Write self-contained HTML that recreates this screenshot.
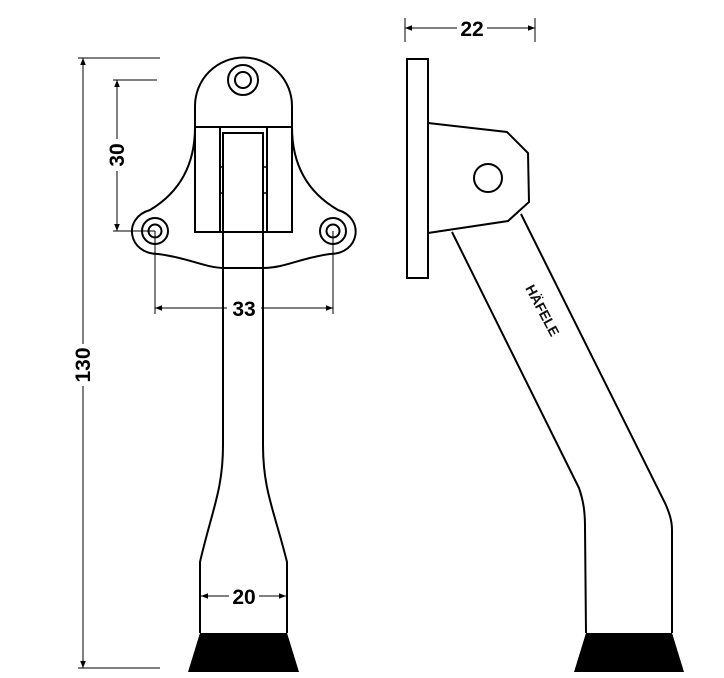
<!DOCTYPE html>
<html><head><style>body{margin:0;background:#fff}svg{display:block}</style></head><body>
<svg width="724" height="678" viewBox="0 0 724 678" xmlns="http://www.w3.org/2000/svg" font-family="Liberation Sans, sans-serif">
<defs><marker id="a" viewBox="0 0 10 10" refX="10" refY="5" markerWidth="16" markerHeight="7" orient="auto-start-reverse" markerUnits="userSpaceOnUse"><path d="M0,1 L10,5 L0,9z" fill="#000"/></marker></defs>
<g fill="none" stroke="#000" stroke-width="2">
<path d="M195,127 L195,106 A48.5,48.5 0 0 1 292,106 L292,127 Z" fill="#fff"/>
<circle cx="243" cy="80" r="15"/><circle cx="243" cy="80" r="8"/>
<path d="M195,127 C195,170 175,195 150,210 C122,218 128,254 158,254 C190,258 205,268 225,268 L263,268 C285,268 300,258 330,254 C360,254 365,218 338,210 C312,195 292,170 292,127"/>
<circle cx="155" cy="231" r="13"/><circle cx="155" cy="231" r="6.5"/>
<circle cx="333" cy="231" r="13"/><circle cx="333" cy="231" r="6.5"/>
<rect x="195" y="127" width="97" height="105" fill="#fff"/>
<line x1="220" y1="127" x2="220" y2="232"/><line x1="267" y1="127" x2="267" y2="232"/>
<path d="M223,268 L223,133 L263,133 L263,268"/>
<path d="M220,167 H223 M220,193 H223 M263,167 H267 M263,193 H267" stroke-width="1.5"/>
<path d="M223,268 L223,445 C223,490 212,510 200,562 L200,633"/>
<path d="M263,268 L263,445 C263,490 274,510 287,562 L287,633"/>
</g>
<path d="M200,633 L287,633 L299,672 L188,672 Z" fill="#000"/>
<g fill="none" stroke="#000" stroke-width="2">
<rect x="407" y="59" width="21" height="219"/>
<path d="M428,123 L507,132 L528,153 L529,202 L508,221 L428,233"/>
<circle cx="488" cy="178" r="14"/>
<path d="M452,232 L579,488 C583,500 585,510 585,527 L586,633"/>
<path d="M521,214 L665,503 C669,512 672,520 672,530 L672,633"/>
</g>
<path d="M586,633 L672,633 L684,672 L574,672 Z" fill="#000"/>
<text x="0" y="0" font-size="14" font-weight="bold" fill="#111" transform="translate(525,288) rotate(62)">HÄFELE</text>
<g stroke="#000" stroke-width="1" fill="none">
<line x1="78" y1="58" x2="160" y2="58"/><line x1="78" y1="668" x2="160" y2="668"/>
<line x1="83" y1="58" x2="83" y2="668" marker-start="url(#a)" marker-end="url(#a)"/>
<line x1="113" y1="80" x2="157" y2="80"/><line x1="113" y1="231" x2="155" y2="231"/>
<line x1="117" y1="80" x2="117" y2="231" marker-start="url(#a)" marker-end="url(#a)"/>
<line x1="155" y1="231" x2="155" y2="314"/><line x1="333" y1="231" x2="333" y2="314"/>
<line x1="155" y1="308" x2="333" y2="308" marker-start="url(#a)" marker-end="url(#a)"/>
<line x1="201" y1="596" x2="286" y2="596" marker-start="url(#a)" marker-end="url(#a)"/>
<line x1="405" y1="18" x2="405" y2="42"/><line x1="535" y1="18" x2="535" y2="42"/>
<line x1="405" y1="28" x2="535" y2="28" marker-start="url(#a)" marker-end="url(#a)"/>
</g>
<g font-size="21" font-weight="bold" fill="#000" text-anchor="middle">
<rect x="227" y="298" width="34" height="20" fill="#fff"/>
<text x="244" y="316">33</text>
<rect x="229" y="586" width="30" height="20" fill="#fff"/>
<text x="244" y="604">20</text>
<rect x="457" y="18" width="30" height="20" fill="#fff"/>
<text x="472" y="36">22</text>
<rect x="107" y="139" width="20" height="32" fill="#fff"/>
<text transform="translate(124,155) rotate(-90)">30</text>
<rect x="73" y="344" width="20" height="42" fill="#fff"/>
<text transform="translate(90,365) rotate(-90)">130</text>
</g>
</svg>
</body></html>
